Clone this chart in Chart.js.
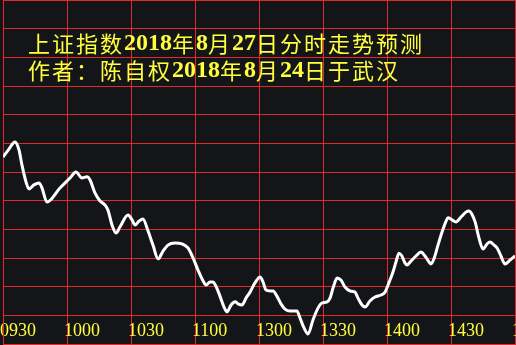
<!DOCTYPE html>
<html>
<head>
<meta charset="utf-8">
<script src="https://cdn.jsdelivr.net/npm/chart.js@4"></script>
<style>
  html, body { margin: 0; padding: 0; background: #141518; }
  canvas { display: block; }
</style>
</head>
<body>
<canvas id="c" width="516" height="345"></canvas>
<script>
// ---- data ----
const titleLines = ["上证指数2018年8月27日分时走势预测", "作者：陈自权2018年8月24日于武汉"];
const tickLabels = ["0930", "1000", "1030", "1100", "1300", "1330", "1400", "1430", "1500"];
// minutes since 09:30 (trading time, lunch break removed)
const minutes = [0, 2.8, 5.6, 7.5, 8.9, 10.8, 12.2, 14.5, 16.9, 18.3, 20.6, 26.7, 31.4, 34.2, 37.0, 39.4, 40.8, 43.1, 45.5, 47.8,
  49.2, 51.1, 53.0, 54.8, 58.6, 60.5, 61.9, 63.8, 65.6, 68.0, 70.3, 72.7, 75.0, 77.3, 80.6, 83.9, 86.7, 89.1, 91.4, 93.8,
  95.2, 97.0, 98.4, 99.8, 101.7, 103.6, 105.0, 106.9, 108.8, 110.2, 112.0, 113.9, 115.8, 118.1, 120.5, 121.9, 123.3, 125.2, 126.6, 128.4,
  130.3, 132.2, 134.5, 137.8, 139.2, 141.1, 143.0, 145.3, 147.7, 149.5, 151.9, 153.3, 154.7, 156.6, 158.4, 160.3, 162.7, 165.0, 166.4, 168.3,
  169.7, 172.0, 174.4, 177.2, 179.1, 180.5, 181.4, 182.8, 184.2, 185.6, 187.0, 188.4, 189.4, 191.3, 193.6, 195.9, 197.8, 199.7, 200.6, 202.0,
  203.9, 205.8, 207.7, 208.6, 210.5, 212.3, 214.7, 217.0, 218.4, 219.8, 221.3, 223.1, 225.0, 226.9, 228.3, 230.2, 231.6, 233.4, 235.3, 237.7, 240.0];
const forecast = [2765.2, 2768.0, 2770.5, 2767.7, 2762.4, 2756.5, 2754.1, 2755.5, 2756.2, 2754.4, 2749.5, 2754.4, 2757.9, 2760.0, 2757.9, 2758.3, 2757.2, 2752.7, 2749.9, 2748.5,
  2746.7, 2741.5, 2738.7, 2740.8, 2745.0, 2743.3, 2741.5, 2742.9, 2743.6, 2739.4, 2734.5, 2729.7, 2732.4, 2734.5, 2735.2, 2734.9, 2733.5, 2730.0, 2725.8, 2722.0,
  2720.6, 2721.6, 2721.6, 2720.2, 2716.7, 2712.9, 2711.2, 2713.6, 2714.7, 2714.0, 2713.6, 2716.0, 2718.1, 2721.3, 2723.4, 2721.6, 2718.8, 2718.5, 2718.5, 2716.7,
  2714.0, 2712.2, 2711.5, 2711.5, 2709.1, 2705.6, 2703.5, 2708.4, 2712.6, 2714.3, 2714.7, 2716.0, 2719.5, 2723.0, 2722.3, 2719.9, 2718.5, 2718.1, 2716.0, 2713.6,
  2712.9, 2715.0, 2716.4, 2717.1, 2718.1, 2720.6, 2722.3, 2725.1, 2728.6, 2731.7, 2730.7, 2728.3, 2727.6, 2729.0, 2730.7, 2732.1, 2730.7, 2728.6, 2727.9, 2729.7,
  2734.5, 2739.1, 2742.9, 2744.0, 2743.3, 2742.6, 2744.3, 2746.0, 2746.4, 2745.3, 2742.6, 2737.0, 2733.1, 2734.9, 2735.6, 2734.5, 2733.5, 2730.7, 2727.9, 2729.3, 2730.7];
const yMin = 2700, yMax = 2820, yStep = 10;

// ---- styles ----
const GRID = '#e02a2a';
const YELLOW = '#ffff3c';

const points = minutes.map((m, i) => ({ x: m, y: forecast[i] }));

const titlePlugin = {
  id: 'overlayTitle',
  afterDraw(chart) {
    const ctx = chart.ctx;
    ctx.save();
    ctx.fillStyle = YELLOW;
    ctx.textBaseline = 'middle';
    const ys = [44, 71];
    titleLines.forEach((line, li) => {
      let x = 28;
      line.split(/(\d+)/).forEach(part => {
        if (!part) return;
        if (/^\d+$/.test(part)) {
          ctx.font = 'bold 24px "Liberation Serif"';
        } else {
          ctx.font = '22px "Noto Sans CJK SC"';
          ctx.letterSpacing = '2px';
        }
        ctx.fillText(part, x, ys[li]);
        x += ctx.measureText(part).width;
        ctx.letterSpacing = '0px';
      });
    });
    ctx.restore();
  }
};

new Chart(document.getElementById('c'), {
  type: 'line',
  data: {
    datasets: [{
      data: points,
      borderColor: '#ffffff',
      borderWidth: 3,
      pointRadius: 0,
      cubicInterpolationMode: 'monotone',
      fill: false
    }]
  },
  options: {
    responsive: false,
    animation: false,
    devicePixelRatio: 1,
    layout: { padding: { left: 3, right: 1, top: 0, bottom: 1 } },
    plugins: { legend: { display: false }, tooltip: { enabled: false }, title: { display: false } },
    scales: {
      x: {
        type: 'linear',
        min: 0, max: 240,
        grid: { color: GRID, lineWidth: 1, drawTicks: false },
        border: { color: GRID, width: 1 },
        ticks: {
          stepSize: 30,
          autoSkip: false,
          maxRotation: 0,
          align: 'start',
          labelOffset: -3,
          mirror: true,
          padding: 2,
          color: YELLOW,
          font: { family: '"Liberation Serif"', size: 18 },
          callback: (v, i) => tickLabels[i]
        },
        afterFit: (s) => { s.height = 0; s.paddingLeft = 0; s.paddingRight = 0; }
      },
      y: {
        min: yMin, max: yMax,
        grid: { color: GRID, lineWidth: 1, drawTicks: false },
        border: { color: GRID, width: 1 },
        ticks: { display: false, stepSize: yStep },
        afterFit: (s) => { s.width = 0; }
      }
    }
  },
  plugins: [titlePlugin]
});
</script>
</body>
</html>
